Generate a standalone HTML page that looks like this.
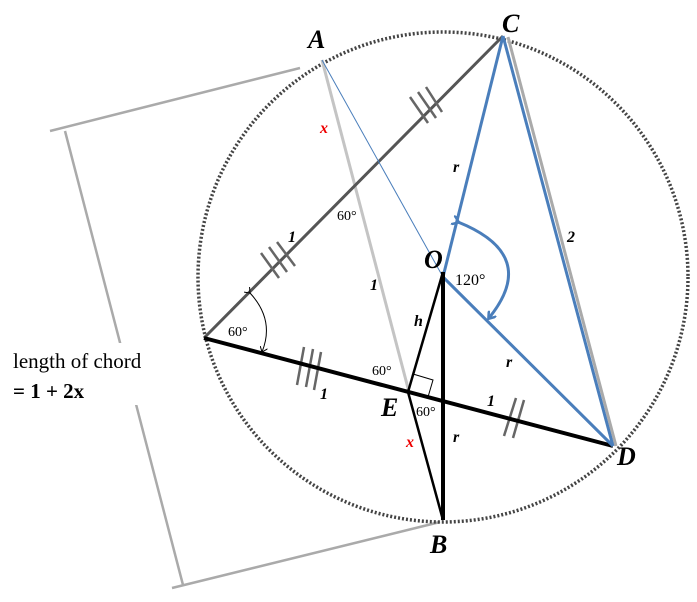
<!DOCTYPE html>
<html><head><style>body{margin:0;background:#fff}svg{display:block}</style></head><body>
<svg width="697" height="602" xmlns="http://www.w3.org/2000/svg" font-family="Liberation Serif, serif">
<defs>
<marker id="ab" markerWidth="10" markerHeight="10" refX="6" refY="5" orient="auto" markerUnits="userSpaceOnUse"><path d="M0,0 L7,5 L0,10" fill="none" stroke="#4a7ebb" stroke-width="2.5"/></marker>
<marker id="ak" markerWidth="8" markerHeight="8" refX="5" refY="4" orient="auto" markerUnits="userSpaceOnUse"><path d="M0,0 L5,4 L0,8" fill="none" stroke="#000" stroke-width="1"/></marker>
</defs>
<g stroke="#aaa" stroke-width="2.5" fill="none">
<line x1="50" y1="131" x2="300" y2="68"/>
<line x1="65" y1="131" x2="183" y2="585"/>
<line x1="172" y1="588" x2="440" y2="522"/>
</g>
<circle cx="443" cy="277" r="245" fill="none" stroke="#444" stroke-width="3.5" stroke-dasharray="2,2"/>
<line x1="322" y1="60" x2="409" y2="392" stroke="#c4c4c4" stroke-width="3"/>
<line x1="204" y1="338" x2="503" y2="36" stroke="#555" stroke-width="3"/>
<g stroke="#666" stroke-width="2.5">
<line x1="410" y1="97" x2="428" y2="123"/><line x1="418" y1="92" x2="436" y2="118"/><line x1="426" y1="87" x2="442" y2="112"/>
<line x1="261" y1="253" x2="279" y2="278"/><line x1="269" y1="247" x2="287" y2="272"/><line x1="277" y1="242" x2="295" y2="266"/>
<line x1="304" y1="347" x2="297" y2="385"/><line x1="313" y1="349" x2="306" y2="387"/><line x1="321" y1="352" x2="314" y2="390"/>
<line x1="516" y1="398" x2="504" y2="436"/><line x1="524" y1="400" x2="513" y2="438"/>
</g>
<line x1="204" y1="338" x2="613" y2="446" stroke="#000" stroke-width="4"/>
<line x1="508" y1="37" x2="616" y2="446" stroke="#aaa" stroke-width="3"/>
<line x1="503" y1="36" x2="613" y2="446" stroke="#4a7ebb" stroke-width="3"/>
<line x1="322" y1="60" x2="443" y2="277" stroke="#4a7ebb" stroke-width="1"/>
<line x1="503" y1="36" x2="443" y2="277" stroke="#4a7ebb" stroke-width="3"/>
<line x1="443" y1="277" x2="613" y2="446" stroke="#4a7ebb" stroke-width="3"/>
<path d="M458,222 Q540,255 489,318" fill="none" stroke="#4a7ebb" stroke-width="3" marker-start="url(#ab)" marker-end="url(#ab)"/>
<line x1="443" y1="272" x2="443" y2="520" stroke="#000" stroke-width="4"/>
<line x1="443" y1="272" x2="408" y2="392" stroke="#000" stroke-width="2.5"/>
<line x1="408" y1="392" x2="443" y2="520" stroke="#000" stroke-width="2.5"/>
<path d="M413,374 L433,380 L428,397" fill="none" stroke="#000" stroke-width="1"/>
<path d="M250,293 Q275,320 262,352" fill="none" stroke="#000" stroke-width="1" marker-start="url(#ak)" marker-end="url(#ak)"/>
<rect x="5" y="343" width="135" height="62" fill="#fff"/>
<text x="13" y="368" font-size="21">length of chord</text>
<text x="13" y="398" font-size="21" font-weight="bold">= 1 + 2x</text>
<g font-size="26" font-style="italic" font-weight="bold">
<text x="308" y="48">A</text><text x="502" y="32">C</text><text x="424" y="268">O</text>
<text x="381" y="416">E</text><text x="617" y="465">D</text><text x="430" y="553">B</text>
</g>
<g font-size="16" font-style="italic" font-weight="bold">
<text x="320" y="133" fill="#e00">x</text><text x="406" y="447" fill="#e00">x</text>
<text x="453" y="172">r</text><text x="506" y="367">r</text><text x="453" y="442">r</text>
<text x="414" y="326">h</text><text x="288" y="242">1</text><text x="370" y="290">1</text>
<text x="320" y="399">1</text><text x="487" y="406">1</text><text x="567" y="242">2</text>
</g>
<g font-size="14">
<text x="337" y="220">60°</text><text x="228" y="336">60°</text><text x="372" y="375">60°</text>
<text x="416" y="416">60°</text><text x="455" y="285" font-size="16">120°</text>
</g>
</svg>
</body></html>
